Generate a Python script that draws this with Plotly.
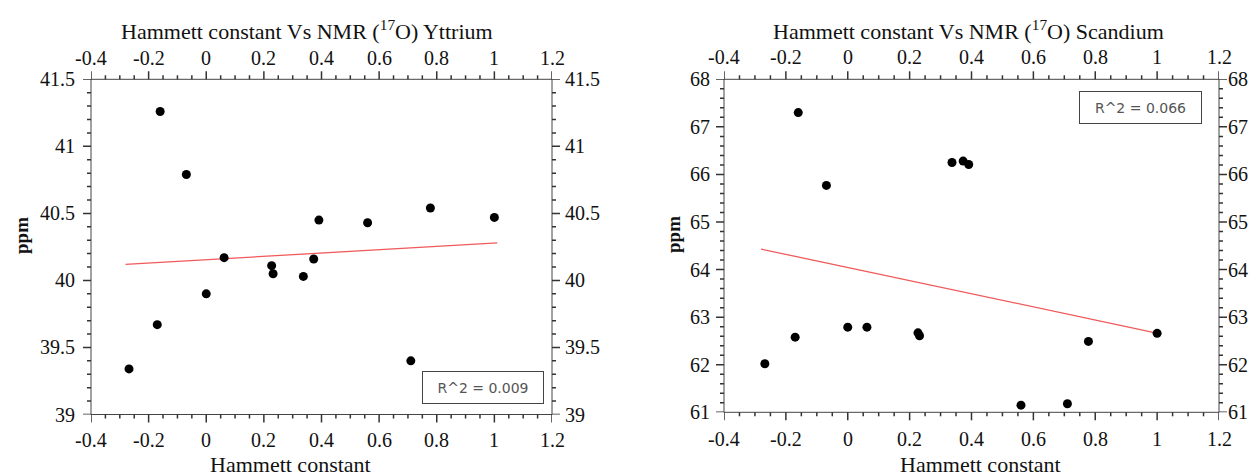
import plotly.graph_objects as go

# ---------------- data ----------------
hammett = [-0.268, -0.17, -0.16, -0.069, 0.0, 0.062, 0.227, 0.232, 0.337, 0.373, 0.391, 0.56, 0.71, 0.778, 1.0]
ppm_yttrium = [39.34, 39.67, 41.26, 40.79, 39.90, 40.17, 40.11, 40.05, 40.03, 40.16, 40.45, 40.43, 39.40, 40.54, 40.47]
ppm_scandium = [62.02, 62.58, 67.30, 65.77, 62.79, 62.79, 62.67, 62.61, 66.25, 66.28, 66.21, 61.15, 61.18, 62.49, 62.66]

fit_x = [-0.28, 1.01]
fit_yttrium = [40.12, 40.28]
fit_scandium = [64.43, 62.65]

x_ticks = [-0.4, -0.2, 0, 0.2, 0.4, 0.6, 0.8, 1.0, 1.2]
x_tick_labels = ["-0.4", "-0.2", "0", "0.2", "0.4", "0.6", "0.8", "1", "1.2"]
y_ticks_yttrium = [39, 39.5, 40, 40.5, 41, 41.5]
y_tick_labels_yttrium = ["39", "39.5", "40", "40.5", "41", "41.5"]
y_ticks_scandium = [61, 62, 63, 64, 65, 66, 67, 68]
y_tick_labels_scandium = ["61", "62", "63", "64", "65", "66", "67", "68"]

title_yttrium = "Hammett constant Vs NMR (<sup>17</sup>O) Yttrium"
title_scandium = "Hammett constant Vs NMR (<sup>17</sup>O) Scandium"
x_title = "Hammett constant"
y_title = "ppm"
r2_yttrium = "R^2 = 0.009"
r2_scandium = "R^2 = 0.066"

# ---------------- layout helpers ----------------
W, H = 1255, 476
def px(x):
    return x / W
def py(y):
    return 1 - y / H

SERIF = "Liberation Serif"
AXC = "#444444"
TICKC = "#333333"
TICKFONT = dict(family=SERIF, size=20, color="#111111")

def axis(domain, anchor, rng):
    return dict(domain=domain, anchor=anchor, range=rng, autorange=False,
                automargin=False, showline=False, ticks="", showgrid=False,
                zeroline=False, showticklabels=False)

def subdivide(ticks, n):
    out = []
    for a, b in zip(ticks[:-1], ticks[1:]):
        for k in range(1, n):
            out.append(a + (b - a) * k / n)
    return out

# plot area pixel boxes (left, right, bottom, top)
L_box = (91, 552, 414.5, 79.3)
R_box = (724, 1219, 412.3, 79.3)

XR = [-0.4, 1.2]
YR_Y = [39, 41.5]
YR_S = [61, 68]

fig = go.Figure()

marker = dict(color="black", size=9)
line_style = dict(color="rgb(240,90,90)", width=1.3)

fig.add_trace(go.Scatter(x=fit_x, y=fit_yttrium, mode="lines", line=line_style,
                         xaxis="x", yaxis="y", showlegend=False, hoverinfo="skip"))
fig.add_trace(go.Scatter(x=hammett, y=ppm_yttrium, mode="markers", marker=marker,
                         xaxis="x", yaxis="y", showlegend=False))
fig.add_trace(go.Scatter(x=fit_x, y=fit_scandium, mode="lines", line=line_style,
                         xaxis="x2", yaxis="y2", showlegend=False, hoverinfo="skip"))
fig.add_trace(go.Scatter(x=hammett, y=ppm_scandium, mode="markers", marker=marker,
                         xaxis="x2", yaxis="y2", showlegend=False))

fig.update_layout(
    template="none",
    width=W, height=H,
    margin=dict(l=0, r=0, t=0, b=0, pad=0, autoexpand=False),
    paper_bgcolor="white", plot_bgcolor="white",
    showlegend=False,
    xaxis=axis([px(L_box[0]), px(L_box[1])], "y", XR),
    yaxis=axis([py(L_box[2]), py(L_box[3])], "x", YR_Y),
    xaxis2=axis([px(R_box[0]), px(R_box[1])], "y2", XR),
    yaxis2=axis([py(R_box[2]), py(R_box[3])], "x2", YR_S),
)

# ---------------- frame and ticks (axis decoration) ----------------
shapes = []
frame_line = dict(color=AXC, width=1)
tick_line = dict(color=TICKC, width=1.5)

def add_frame(xa, ya):
    shapes.append(dict(type="rect", xref=xa + " domain", yref=ya + " domain",
                       x0=0, x1=1, y0=0, y1=1, line=frame_line,
                       fillcolor="rgba(0,0,0,0)", layer="above"))

def add_x_ticks(xa, box, vals, length):
    left, right, bottom, top = box
    for v in vals:
        shapes.append(dict(type="line", xref=xa, yref="paper", x0=v, x1=v,
                           y0=py(bottom), y1=py(bottom + length), line=tick_line))
        shapes.append(dict(type="line", xref=xa, yref="paper", x0=v, x1=v,
                           y0=py(top), y1=py(top - length), line=tick_line))

def add_y_ticks(ya, box, vals, length):
    left, right, bottom, top = box
    for v in vals:
        shapes.append(dict(type="line", xref="paper", yref=ya, y0=v, y1=v,
                           x0=px(left), x1=px(left - length), line=tick_line))
        shapes.append(dict(type="line", xref="paper", yref=ya, y0=v, y1=v,
                           x0=px(right), x1=px(right + length), line=tick_line))

for xa, ya, box, yt, nsub in (("x", "y", L_box, y_ticks_yttrium, 5),
                              ("x2", "y2", R_box, y_ticks_scandium, 5)):
    add_frame(xa, ya)
    add_x_ticks(xa, box, x_ticks, 8)
    add_x_ticks(xa, box, subdivide(x_ticks, 4), 4)
    add_y_ticks(ya, box, yt, 8)
    add_y_ticks(ya, box, subdivide(yt, nsub), 4)

fig.update_layout(shapes=shapes)

# ---------------- texts ----------------
ann = []

def tick_label(text, x, y, xref, yref, xanchor, yanchor):
    ann.append(dict(text=text, x=x, y=y, xref=xref, yref=yref, xanchor=xanchor,
                    yanchor=yanchor, showarrow=False, font=TICKFONT, borderpad=0))

for xr, ybot, ytop in (("x", 439.5, 57.5), ("x2", 439.0, 56.5)):
    for v, t in zip(x_ticks, x_tick_labels):
        tick_label(t, v, py(ybot), xr, "paper", "center", "middle")
        tick_label(t, v, py(ytop), xr, "paper", "center", "middle")

for v, t in zip(y_ticks_yttrium, y_tick_labels_yttrium):
    tick_label(t, px(76), v, "paper", "y", "right", "middle")
    tick_label(t, px(564), v, "paper", "y", "left", "middle")
for v, t in zip(y_ticks_scandium, y_tick_labels_scandium):
    tick_label(t, px(711), v, "paper", "y2", "right", "middle")
    tick_label(t, px(1227), v, "paper", "y2", "left", "middle")

title_font = dict(family=SERIF, size=22, color="#111111")
ann.append(dict(text=title_yttrium, x=px(306.5), y=py(30), xref="paper", yref="paper",
                xanchor="center", yanchor="middle", showarrow=False, font=title_font))
ann.append(dict(text=title_scandium, x=px(968.5), y=py(30), xref="paper", yref="paper",
                xanchor="center", yanchor="middle", showarrow=False, font=title_font))
ann.append(dict(text=x_title, x=px(290.5), y=py(464.5), xref="paper", yref="paper",
                xanchor="center", yanchor="middle", showarrow=False, font=title_font))
ann.append(dict(text=x_title, x=px(980.3), y=py(464.5), xref="paper", yref="paper",
                xanchor="center", yanchor="middle", showarrow=False, font=title_font))
ppm_font = dict(family=SERIF, size=19, color="#111111")
ann.append(dict(text="<b>" + y_title + "</b>", x=px(21), y=py(236), xref="paper", yref="paper",
                xanchor="center", yanchor="middle", showarrow=False, textangle=-90, font=ppm_font))
ann.append(dict(text="<b>" + y_title + "</b>", x=px(673), y=py(235), xref="paper", yref="paper",
                xanchor="center", yanchor="middle", showarrow=False, textangle=-90, font=ppm_font))
box_font = dict(family="DejaVu Sans", size=14, color="#555555")
ann.append(dict(text=r2_yttrium, x=px(482.8), y=py(387.3), xref="paper", yref="paper",
                xanchor="center", yanchor="middle", showarrow=False, font=box_font,
                width=120, height=31, borderwidth=1, bordercolor="#444444", borderpad=0,
                bgcolor="white"))
ann.append(dict(text=r2_scandium, x=px(1140.3), y=py(107.5), xref="paper", yref="paper",
                xanchor="center", yanchor="middle", showarrow=False, font=box_font,
                width=121, height=31, borderwidth=1, bordercolor="#444444", borderpad=0,
                bgcolor="white"))
fig.update_layout(annotations=ann)

fig.write_html("out.html")
